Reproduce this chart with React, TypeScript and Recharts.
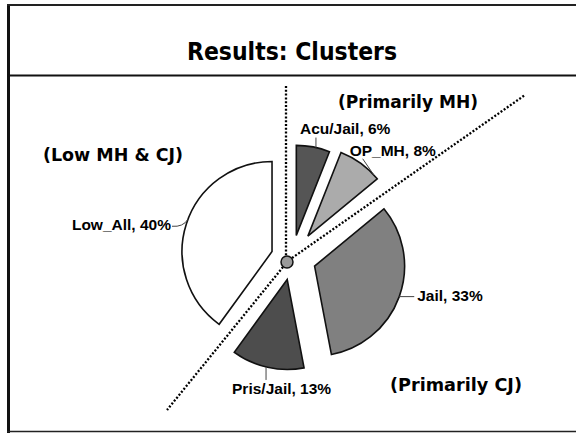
import React from 'react';
import { PieChart, Pie, Cell, Sector } from 'recharts';

const title = 'Results: Clusters';
const categories = ['Acu/Jail', 'OP_MH', 'Jail', 'Pris/Jail', 'Low_All'];
const shares = [6, 8, 33, 13, 40];
const groupLabels = ['(Primarily MH)', '(Low MH & CJ)', '(Primarily CJ)'];

const data = categories.map((name, i) => ({ name, value: shares[i] }));

const RADIAN = Math.PI / 180;

// slice look
const FILLS: Record<string, string> = {
  'Acu/Jail': '#555555',
  OP_MH: '#ababab',
  Jail: '#808080',
  'Pris/Jail': '#4d4d4d',
  Low_All: '#ffffff',
};
// how far each slice is pulled out of the pie
const EXPLODE: Record<string, number> = {
  'Acu/Jail': 23,
  OP_MH: 27,
  Jail: 24,
  'Pris/Jail': 22,
  Low_All: 21,
};
// leader line / label placement, relative to the point on the slice edge
const LABEL_LAYOUT: Record<string, { turn: number; leader: [number, number]; text: [number, number]; anchor: 'start' | 'end'; curve?: boolean }> = {
  'Acu/Jail': { turn: -1.8, leader: [0, -10], text: [-16, -14], anchor: 'start' },
  OP_MH: { turn: -11, leader: [-11, -16], text: [-24, -19], anchor: 'start' },
  Jail: { turn: 0, leader: [15, 0], text: [18, 4.5], anchor: 'start' },
  'Pris/Jail': { turn: -1, leader: [0, 13], text: [-34, 27], anchor: 'start' },
  Low_All: { turn: -3, leader: [-16, 7], text: [-17, 11], anchor: 'end', curve: true },
};

const CX = 292;
const CY = 258;
const HUB = { x: 287, y: 262 };

const renderSlice = (props: any) => {
  const name = props.name ?? props.payload?.name;
  const e = EXPLODE[name] ?? 0;
  const m = props.midAngle * RADIAN;
  return (
    <Sector
      {...props}
      cx={props.cx + e * Math.cos(m)}
      cy={props.cy - e * Math.sin(m)}
      fill={FILLS[name]}
      stroke="#111"
      strokeWidth={1.6}
    />
  );
};

const renderLabel = (props: any) => {
  const { cx, cy, midAngle, outerRadius, index } = props;
  const name = categories[index];
  const lay = LABEL_LAYOUT[name];
  const e = EXPLODE[name];
  const m = midAngle * RADIAN;
  const ox = cx + e * Math.cos(m);
  const oy = cy - e * Math.sin(m);
  const a = (midAngle + lay.turn) * RADIAN;
  const px = ox + outerRadius * Math.cos(a);
  const py = oy - outerRadius * Math.sin(a);
  const ex = px + lay.leader[0];
  const ey = py + lay.leader[1];
  const d = lay.curve ? `M${px},${py} Q${px - 5},${py + 8} ${ex},${ey}` : `M${px},${py} L${ex},${ey}`;
  return (
    <g key={`lbl-${index}`}>
      <path d={d} stroke="#444" strokeWidth={1} fill="none" />
      <text
        x={px + lay.text[0]}
        y={py + lay.text[1]}
        textAnchor={lay.anchor}
        fontFamily="'Liberation Sans', Arial, sans-serif"
        fontWeight="bold"
        fontSize={15.5}
        fill="#000"
      >
        {`${name}, ${shares[index]}%`}
      </text>
    </g>
  );
};

const groupText = {
  fontFamily: "'DejaVu Sans', Verdana, sans-serif",
  fontWeight: 'bold' as const,
  fill: '#000',
  lengthAdjust: 'spacingAndGlyphs' as const,
};

export default function App() {
  return (
    <div style={{ position: 'absolute', left: 0, top: 0, width: 576, height: 434, background: '#fff' }}>
      <svg width={576} height={434} style={{ position: 'absolute', left: 0, top: 0 }}>
        {/* slide frame */}
        <line x1={8.5} y1={4} x2={8.5} y2={433} stroke="#111" strokeWidth={3} />
        <line x1={7} y1={5} x2={576} y2={5} stroke="#222" strokeWidth={2} />
        <line x1={7} y1={75.5} x2={576} y2={75.5} stroke="#111" strokeWidth={2} />
        <line x1={7} y1={431.5} x2={576} y2={431.5} stroke="#222" strokeWidth={1.5} />
        <text x={187} y={60} fontSize={25} textLength={210} {...groupText}>
          {title}
        </text>
        <text x={338} y={108} fontSize={17.5} textLength={140} {...groupText}>
          {groupLabels[0]}
        </text>
        <text x={43} y={161} fontSize={17.5} textLength={140} {...groupText}>
          {groupLabels[1]}
        </text>
        <text x={390} y={391} fontSize={17.5} textLength={132} {...groupText}>
          {groupLabels[2]}
        </text>
        {/* dividing dotted lines */}
        <g stroke="#000" strokeWidth={2.3} strokeDasharray="2 1.8" fill="none">
          <line x1={286} y1={86} x2={286} y2={HUB.y - 6} />
          <line x1={HUB.x + 5} y1={HUB.y - 4} x2={525} y2={95} />
          <line x1={HUB.x - 4} y1={HUB.y + 5} x2={167} y2={410} />
        </g>
        <circle cx={HUB.x} cy={HUB.y} r={6} fill="#9a9a9a" stroke="#111" strokeWidth={1.5} />
      </svg>
      <div style={{ position: 'absolute', left: 0, top: 0 }}>
        <PieChart width={576} height={434} margin={{ top: 0, right: 0, bottom: 0, left: 0 }}>
          <Pie
            data={data}
            dataKey="value"
            nameKey="name"
            cx={CX}
            cy={CY}
            outerRadius={90}
            startAngle={90}
            endAngle={-270}
            stroke="#111"
            strokeWidth={1.6}
            isAnimationActive={false}
            shape={renderSlice}
            activeShape={renderSlice}
            inactiveShape={renderSlice}
            label={renderLabel}
            labelLine={false}
          >
            {data.map((d) => (
              <Cell key={d.name} fill={FILLS[d.name]} />
            ))}
          </Pie>
        </PieChart>
      </div>
    </div>
  );
}
